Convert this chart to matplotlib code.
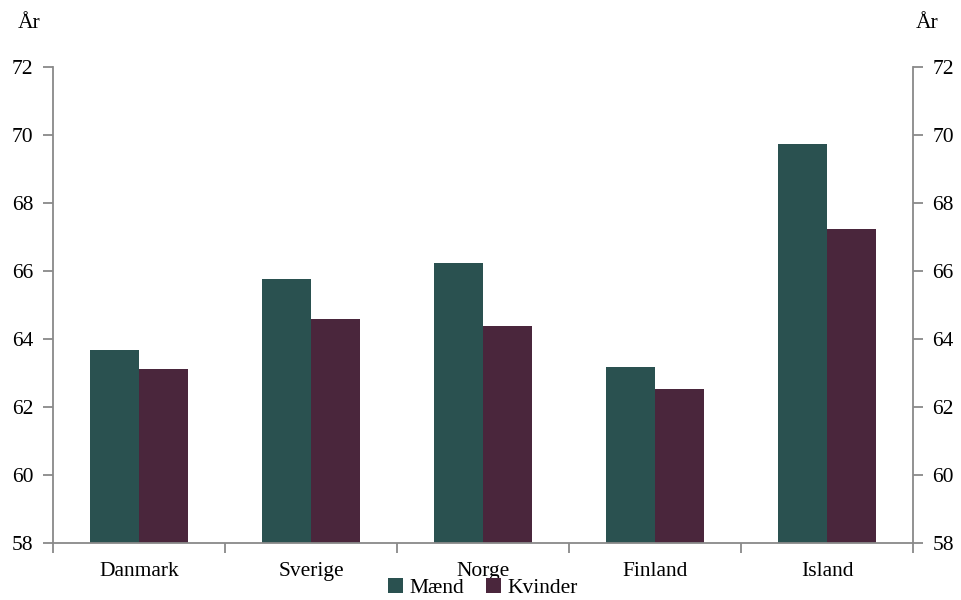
import matplotlib
matplotlib.use("Agg")
import matplotlib.pyplot as plt
import numpy as np

countries = ["Danmark", "Sverige", "Norge", "Finland", "Island"]
maend = [63.68, 65.76, 66.24, 63.18, 69.74]
kvinder = [63.12, 64.59, 64.38, 62.53, 67.24]
yticks = [58, 60, 62, 64, 66, 68, 70, 72]

plt.rcParams['font.family'] = ['Liberation Serif', 'DejaVu Serif']
fs = 15.5

fig = plt.figure(figsize=(9.62, 6.0), dpi=100)
ax = fig.add_axes([0.0551, 0.095, 0.8939, 0.793])
x = np.arange(len(countries))
w = 0.285
c1 = "#2a5150"
c2 = "#4a263c"
ax.bar(x - w/2, np.array(maend) - 58, w, bottom=58, color=c1, label="Mænd")
ax.bar(x + w/2, np.array(kvinder) - 58, w, bottom=58, color=c2, label="Kvinder")

ax.set_xlim(-0.5, len(countries) - 0.5)
ax.set_ylim(58, 72)
ax.set_yticks(yticks)
ax.set_yticklabels([str(t) for t in yticks], fontsize=fs)
gray = "#898989"
ax.spines["top"].set_visible(False)
for s in ["left", "right", "bottom"]:
    ax.spines[s].set_color(gray)
    ax.spines[s].set_linewidth(1.3)
ax.tick_params(axis='y', direction='out', length=7, width=1.3, color=gray, pad=7,
               left=True, right=True, labelleft=True, labelright=True)
ax.set_xticks(np.arange(len(countries) + 1) - 0.5)
ax.set_xticklabels([])
ax.set_xticks(x, minor=True)
ax.set_xticklabels(countries, minor=True, fontsize=fs)
ax.tick_params(axis='x', which='major', direction='out', length=7, width=1.3, color=gray)
ax.tick_params(axis='x', which='minor', length=0, pad=14)

fig.text(0.018, 0.960, "År", fontsize=fs, ha='left', va='center')
fig.text(0.952, 0.960, "År", fontsize=fs, ha='left', va='center')

fig.legend(loc='center', bbox_to_anchor=(0.502, 0.02), ncol=2, frameon=False,
           fontsize=fs, handlelength=0.7, handleheight=0.7, handletextpad=0.3,
           columnspacing=1.0, borderpad=0)

fig.savefig("out.png", dpi=100)
